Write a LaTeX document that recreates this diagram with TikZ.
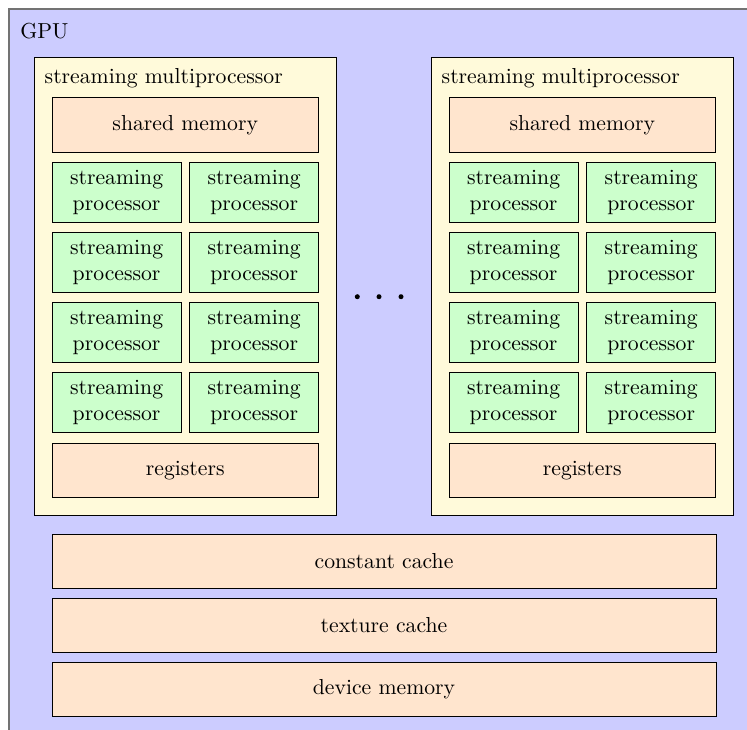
\documentclass[tikz,border=0pt]{standalone}
\definecolor{gpufill}{RGB}{204,204,255}
\definecolor{smfill}{RGB}{255,250,218}
\definecolor{memfill}{RGB}{255,229,206}
\definecolor{spfill}{RGB}{204,255,204}
\begin{document}
\begin{tikzpicture}[x=0.4608pt,y=-0.4608pt,
  box/.style 2 args={draw=black, line width=0.45pt, inner sep=0pt,
    minimum width=#1*0.4608pt, minimum height=#2*0.4608pt},
  smbox/.style={box={301.5}{457.7}, fill=smfill},
  membox/.style={box={266.5}{54.5}, fill=memfill},
  spbox/.style={box={128.8}{60}, fill=spfill, align=center},
  widebox/.style={box={664}{54}, fill=memfill},
  lbl/.style={anchor=base west, inner sep=0pt}]
\useasboundingbox (0,0) rectangle (747,729);
\clip (0,0) rectangle (747,729);
% GPU outline, running off the page on the right and at the bottom
\draw[fill=gpufill, draw=black!55, line width=0.5pt] (9,9) rectangle (780,760);
\node[lbl] (gpulabel) at (20,38.3) {GPU};
% the two streaming multiprocessors
\foreach \k/\dx in {1/0, 2/397} {
  \node[smbox] (sm\k) at (185.25+\dx,286.15) {};
  \node[lbl] (sm\k label) at (44.3+\dx,83) {streaming multiprocessor};
  \node[membox] (shm\k) at (185.25+\dx,124.75) {shared memory};
  \foreach \r/\y in {1/192.7, 2/262.7, 3/332.7, 4/402.7} {
    \node[spbox] (sp\k-\r-1) at (116.6+\dx,\y) {streaming\\processor};
    \node[spbox] (sp\k-\r-2) at (254.2+\dx,\y) {streaming\\processor};
  }
  \node[membox] (reg\k) at (185.25+\dx,470.7) {registers};
}
% ellipsis between the multiprocessors
\foreach \x in {357.3, 379, 401} \fill (\x,296.7) circle (2.5);
% global memories
\node[widebox] (constcache) at (384,561.4) {constant cache};
\node[widebox] (texcache) at (384,625.2) {texture cache};
\node[widebox] (devmem) at (384,689) {device memory};
\end{tikzpicture}
\end{document}
